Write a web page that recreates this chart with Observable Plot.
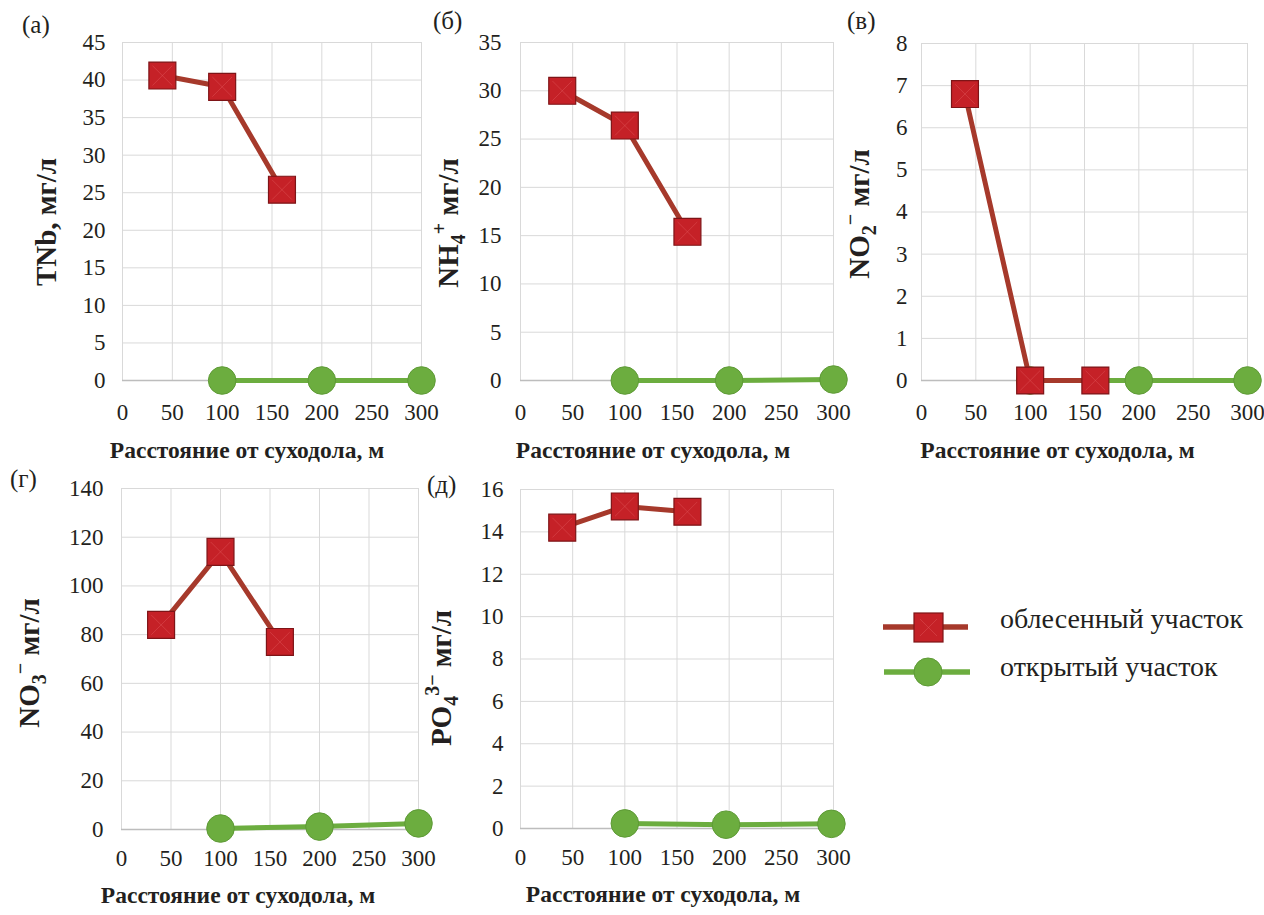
<!DOCTYPE html>
<html>
<head>
<meta charset="utf-8">
<script src="https://cdn.jsdelivr.net/npm/d3@7"></script>
<script src="https://cdn.jsdelivr.net/npm/@observablehq/plot@0.6"></script>
<style>
  body { margin: 0; background: #fff; }
  #chart { position: relative; width: 1264px; height: 915px; font-family: "Liberation Serif", "Times New Roman", serif; color: #231f20; }
  .panel { position: absolute; }
  .panel svg { overflow: visible; display: block; }
  #overlay { position: absolute; left: 0; top: 0; pointer-events: none; overflow: visible; }
</style>
</head>
<body>
<div id="chart"></div>
<script>
// Distances from the dry valley (m)
const xTicks = [0, 50, 100, 150, 200, 250, 300];
const forestX = [40, 100, 160];
const openX = [100, 200, 300];
const openXPhosphate = [100, 197, 298];

// Concentrations, mg/l: forested plot and open plot
const tnbForest = [40.6, 39.1, 25.4];
const tnbOpen = [0, 0, 0];
const nh4Forest = [30.0, 26.4, 15.4];
const nh4Open = [0, 0, 0.1];
const no2Forest = [6.8, 0, 0];
const no2Open = [0, 0, 0];
const no3Forest = [84, 114, 77];
const no3Open = [0.4, 1.2, 2.5];
const po4Forest = [14.2, 15.2, 14.95];
const po4Open = [0.24, 0.18, 0.22];

const seriesNames = ["облесенный участок", "открытый участок"];
const xTitle = "Расстояние от суходола, м";
const panelTags = ["(а)", "(б)", "(в)", "(г)", "(д)"];

const RED_FILL = "#c52127", RED_EDGE = "#7e1417", RED_LINE = "#a6392b";
const GREEN = "#6cad3f", GREEN_EDGE = "#5e9a36";
const FONT = "'Liberation Serif', 'Times New Roman', serif";
const TICK_SIZE = 23;

const chart = document.getElementById("chart");

function panel(cfg) {
  const fData = forestX.map((x, i) => ({x, y: cfg.forest[i]}));
  const oData = cfg.openXs.map((x, i) => ({x, y: cfg.open[i]}));
  const yTicks = d3.range(0, cfg.yMax + cfg.yStep / 2, cfg.yStep);
  const svg = Plot.plot({
    width: cfg.width, height: cfg.height,
    marginLeft: cfg.ml, marginRight: cfg.mr, marginTop: cfg.mt, marginBottom: cfg.mb,
    style: {background: "transparent", overflow: "visible"},
    x: {domain: [0, 300], label: null},
    y: {domain: [0, cfg.yMax], label: null},
    marks: [
      Plot.gridX(xTicks, {stroke: "#d9d9d9", strokeOpacity: 1}),
      Plot.gridY(yTicks, {stroke: "#d9d9d9", strokeOpacity: 1}),
      Plot.ruleY([0], {stroke: "#bdbdbd", strokeWidth: 1.5}),
      Plot.axisX({ticks: xTicks, tickSize: 0, tickPadding: cfg.xPad, fontSize: TICK_SIZE, fontFamily: FONT, fill: "#231f20", label: null}),
      Plot.axisY({ticks: yTicks, tickSize: 0, tickPadding: cfg.yPad, fontSize: TICK_SIZE, fontFamily: FONT, fill: "#231f20", label: null}),
      Plot.text([xTitle], {text: d => d, frameAnchor: "bottom", dx: cfg.titleDx, dy: cfg.titleDy,
        lineAnchor: "bottom", fontSize: 23.5, fontWeight: "bold", fontFamily: FONT, fill: "#231f20"}),
      Plot.line(oData, {x: "x", y: "y", stroke: GREEN, strokeWidth: 5}),
      Plot.dot(oData, {x: "x", y: "y", r: 13.8, fill: GREEN, stroke: GREEN_EDGE, strokeWidth: 1}),
      Plot.line(fData, {x: "x", y: "y", stroke: RED_LINE, strokeWidth: 5}),
      Plot.dot(fData, {x: "x", y: "y", symbol: "square", r: 15.2, fill: RED_FILL, stroke: RED_EDGE, strokeWidth: 1.2}),
      Plot.dot(fData, {x: "x", y: "y", symbol: "times", r: 9, stroke: "#e0575a", strokeOpacity: 0.45, strokeWidth: 1})
    ]
  });
  svg.setAttribute("font-family", FONT);
  const div = document.createElement("div");
  div.className = "panel";
  div.style.left = cfg.left + "px";
  div.style.top = cfg.top + "px";
  div.appendChild(svg);
  chart.appendChild(div);
}

panel({left: 0, top: 0, width: 430, height: 465, ml: 122, mr: 9, mt: 42, mb: 85, yPad: 17, xPad: 23,
  yMax: 45, yStep: 5, forest: tnbForest, open: tnbOpen, openXs: openX, titleDx: -25, titleDy: 77});
panel({left: 430, top: 0, width: 420, height: 465, ml: 90, mr: 17, mt: 42, mb: 85, yPad: 19, xPad: 23,
  yMax: 35, yStep: 5, forest: nh4Forest, open: nh4Open, openXs: openX, titleDx: -24, titleDy: 77});
panel({left: 850, top: 0, width: 414, height: 465, ml: 71, mr: 17, mt: 43, mb: 85, yPad: 14, xPad: 23,
  yMax: 8, yStep: 1, forest: no2Forest, open: no2Open, openXs: openX, titleDx: -27, titleDy: 77});
panel({left: 0, top: 465, width: 430, height: 450, ml: 121, mr: 12, mt: 23, mb: 86, yPad: 18, xPad: 20,
  yMax: 140, yStep: 20, forest: no3Forest, open: no3Open, openXs: openX, titleDx: -32, titleDy: 73});
panel({left: 430, top: 465, width: 420, height: 450, ml: 90, mr: 17, mt: 24, mb: 87, yPad: 17, xPad: 20,
  yMax: 16, yStep: 2, forest: po4Forest, open: po4Open, openXs: openXPhosphate, titleDx: -14, titleDy: 73});

// Overlay: panel tags, y-axis titles with sub/superscripts, legend
const ov = d3.select(chart).append("svg").attr("id", "overlay")
  .attr("width", 1264).attr("height", 915)
  .attr("font-family", FONT).attr("fill", "#231f20");

const tagPos = [[22, 33], [433, 29], [847, 29], [10, 487], [427, 493]];
panelTags.forEach((t, i) => {
  ov.append("text").attr("x", tagPos[i][0]).attr("y", tagPos[i][1]).attr("font-size", 25).text(t);
});

// y titles: parts are [text, shift] where shift is "sub", "sup" or null
const yTitles = [
  {x: 56, y: 222, parts: [["TNb, мг/л", null]]},
  {x: 458, y: 223, parts: [["NH", null], ["4", "sub"], ["+", "sup"], [" мг/л", null]]},
  {x: 869, y: 214, parts: [["NO", null], ["2", "sub"], ["−", "sup"], [" мг/л", null]]},
  {x: 39, y: 663, parts: [["NO", null], ["3", "sub"], ["−", "sup"], [" мг/л", null]]},
  {x: 451, y: 678, parts: [["PO", null], ["4", "sub"], ["3−", "sup"], [" мг/л", null]]}
];
const YT = 29;
yTitles.forEach(t => {
  const txt = ov.append("text")
    .attr("transform", `translate(${t.x},${t.y}) rotate(-90)`)
    .attr("text-anchor", "middle").attr("font-weight", "bold").attr("font-size", YT);
  let cur = 0;
  t.parts.forEach(([s, shift]) => {
    const target = shift === "sub" ? 7 : shift === "sup" ? -12 : 0;
    txt.append("tspan").attr("dy", target - cur)
      .attr("font-size", shift ? 20 : YT).text(s);
    cur = target;
  });
});

// Legend
const lg = ov.append("g");
lg.append("line").attr("x1", 883).attr("x2", 968).attr("y1", 627).attr("y2", 627)
  .attr("stroke", RED_LINE).attr("stroke-width", 5.5);
lg.append("rect").attr("x", 914).attr("y", 613).attr("width", 29).attr("height", 29)
  .attr("fill", RED_FILL).attr("stroke", RED_EDGE).attr("stroke-width", 1.2);
lg.append("path").attr("d", "M920,619L937,636M937,619L920,636")
  .attr("stroke", "#e0575a").attr("stroke-opacity", 0.45).attr("fill", "none");
lg.append("line").attr("x1", 884).attr("x2", 970).attr("y1", 672).attr("y2", 672)
  .attr("stroke", GREEN).attr("stroke-width", 5.5);
lg.append("circle").attr("cx", 928).attr("cy", 672).attr("r", 14)
  .attr("fill", GREEN).attr("stroke", GREEN_EDGE);
lg.append("text").attr("x", 1000).attr("y", 628).attr("font-size", 28).text(seriesNames[0]);
lg.append("text").attr("x", 1000).attr("y", 676).attr("font-size", 28).text(seriesNames[1]);
</script>
</body>
</html>
